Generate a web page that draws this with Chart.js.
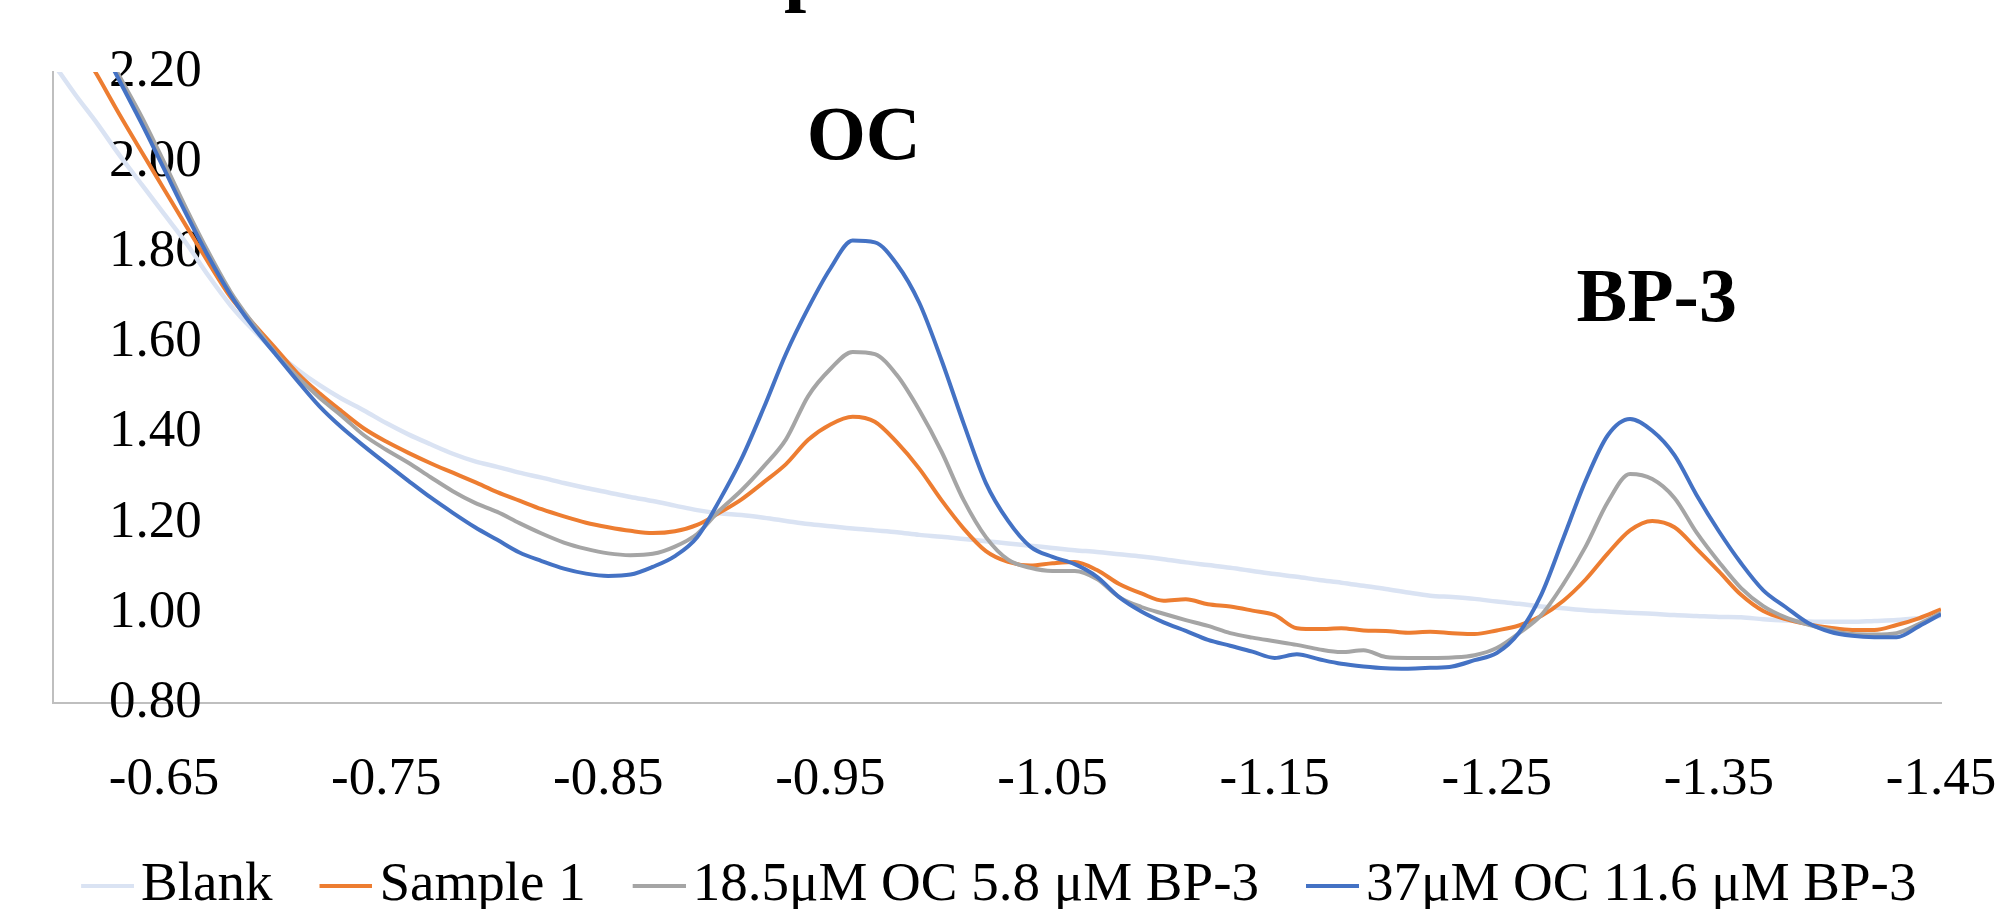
<!DOCTYPE html>
<html>
<head>
<meta charset="utf-8">
<script src="https://cdn.jsdelivr.net/npm/chart.js@4/dist/chart.umd.min.js"></script>
<style>
  html, body { margin: 0; padding: 0; background: #ffffff; }
  #wrap { width: 2000px; height: 909px; position: relative; }
  canvas { display: block; }
</style>
</head>
<body>
<div id="wrap"><canvas id="c" width="2000" height="909"></canvas></div>
<script>
// ---- DATA ----
const potentials = [
  -0.60, -0.61, -0.62, -0.63, -0.64, -0.65, -0.66, -0.67, -0.68, -0.69,
  -0.70, -0.71, -0.72, -0.73, -0.74, -0.75, -0.76, -0.77, -0.78, -0.79,
  -0.80, -0.81, -0.82, -0.83, -0.84, -0.85, -0.86, -0.87, -0.88, -0.89,
  -0.90, -0.91, -0.92, -0.93, -0.94, -0.95, -0.96, -0.97, -0.98, -0.99,
  -1.00, -1.01, -1.02, -1.03, -1.04, -1.05, -1.06, -1.07, -1.08, -1.09,
  -1.10, -1.11, -1.12, -1.13, -1.14, -1.15, -1.16, -1.17, -1.18, -1.19,
  -1.20, -1.21, -1.22, -1.23, -1.24, -1.25, -1.26, -1.27, -1.28, -1.29,
  -1.30, -1.31, -1.32, -1.33, -1.34, -1.35, -1.36, -1.37, -1.38, -1.39,
  -1.40, -1.41, -1.42, -1.43, -1.44, -1.45
];

const blank = [
  2.220, 2.150, 2.085, 2.015, 1.950, 1.885, 1.820, 1.748, 1.682, 1.628,
  1.580, 1.540, 1.505, 1.475, 1.449, 1.421, 1.396, 1.374, 1.353, 1.336,
  1.324, 1.311, 1.300, 1.288, 1.277, 1.267, 1.257, 1.248, 1.238, 1.228,
  1.221, 1.217, 1.211, 1.204, 1.197, 1.192, 1.187, 1.183, 1.179, 1.173,
  1.169, 1.164, 1.159, 1.154, 1.149, 1.144, 1.139, 1.135, 1.130, 1.125,
  1.119, 1.112, 1.106, 1.100, 1.093, 1.086, 1.080, 1.073, 1.067, 1.060,
  1.053, 1.045, 1.038, 1.035, 1.031, 1.025, 1.020, 1.014, 1.010, 1.006,
  1.003, 1.000, 0.998, 0.995, 0.993, 0.991, 0.990, 0.986, 0.983, 0.981,
  0.980, 0.980, 0.982, 0.984, 0.988, 0.993
];

const sample1 = [
  2.360, 2.276, 2.192, 2.105, 2.022, 1.940, 1.858, 1.777, 1.700, 1.643,
  1.588, 1.532, 1.487, 1.447, 1.409, 1.380, 1.355, 1.332, 1.311, 1.290,
  1.268, 1.249, 1.230, 1.214, 1.200, 1.190, 1.182, 1.177, 1.181, 1.195,
  1.222, 1.252, 1.290, 1.330, 1.384, 1.418, 1.435, 1.424, 1.378, 1.320,
  1.250, 1.187, 1.137, 1.113, 1.105, 1.110, 1.113, 1.095, 1.064, 1.043,
  1.027, 1.030, 1.019, 1.014, 1.005, 0.995, 0.966, 0.964, 0.966, 0.961,
  0.960, 0.956, 0.958, 0.955, 0.953, 0.961, 0.972, 0.993, 1.027, 1.074,
  1.132, 1.183, 1.204, 1.190, 1.142, 1.092, 1.040, 1.004, 0.986, 0.975,
  0.967, 0.962, 0.962, 0.973, 0.988, 1.008
];

const mix18 = [
  2.450, 2.365, 2.280, 2.190, 2.100, 2.000, 1.897, 1.800, 1.712, 1.642,
  1.578, 1.524, 1.477, 1.437, 1.394, 1.362, 1.333, 1.301, 1.270, 1.244,
  1.224, 1.199, 1.176, 1.156, 1.142, 1.132, 1.128, 1.131, 1.147, 1.175,
  1.227, 1.272, 1.325, 1.385, 1.481, 1.541, 1.579, 1.574, 1.527, 1.450,
  1.358, 1.250, 1.168, 1.118, 1.100, 1.093, 1.093, 1.075, 1.035, 1.013,
  0.998, 0.984, 0.971, 0.955, 0.945, 0.937, 0.929, 0.919, 0.913, 0.917,
  0.902, 0.900, 0.900, 0.901, 0.906, 0.922, 0.955, 0.995, 1.064, 1.147,
  1.246, 1.308, 1.297, 1.255, 1.178, 1.113, 1.055, 1.015, 0.990, 0.974,
  0.962, 0.953, 0.952, 0.955, 0.975, 1.000
];

const mix37 = [
  2.450, 2.365, 2.275, 2.180, 2.085, 1.985, 1.885, 1.790, 1.705, 1.635,
  1.575, 1.515, 1.458, 1.411, 1.370, 1.331, 1.293, 1.256, 1.222, 1.190,
  1.162, 1.134, 1.115, 1.098, 1.087, 1.082, 1.085, 1.102, 1.126, 1.168,
  1.249, 1.342, 1.455, 1.575, 1.676, 1.764, 1.826, 1.822, 1.773, 1.688,
  1.561, 1.420, 1.288, 1.204, 1.147, 1.124, 1.108, 1.080, 1.035, 1.003,
  0.979, 0.960, 0.940, 0.927, 0.914, 0.900, 0.908, 0.897, 0.887, 0.881,
  0.877, 0.876, 0.878, 0.881, 0.895, 0.911, 0.956, 1.040, 1.166, 1.293,
  1.394, 1.430, 1.404, 1.350, 1.261, 1.181, 1.110, 1.050, 1.013, 0.978,
  0.958, 0.949, 0.946, 0.946, 0.970, 0.997
];

const seriesNames = ['Blank', 'Sample 1', '18.5\u03bcM OC 5.8 \u03bcM BP-3', '37\u03bcM OC 11.6 \u03bcM BP-3'];
const seriesColors = ['#DAE3F3', '#ED7D31', '#A5A5A5', '#4472C4'];
const xTickValues = [-0.65, -0.75, -0.85, -0.95, -1.05, -1.15, -1.25, -1.35, -1.45];
const yTickValues = [0.80, 1.00, 1.20, 1.40, 1.60, 1.80, 2.00, 2.20];
const peakLabels = [
  { text: 'OC',   x: -0.965, y: 2.007 },
  { text: 'BP-3', x: -1.322, y: 1.648 }
];
const titleFragment = 'p';

// ---- RENDERING ----
const FONT = '"Liberation Serif", "Times New Roman", serif';
const seriesValues = [blank, sample1, mix18, mix37];

// legend line sample: 53 px line, offset so it ends 7 px before the label text
function makeLegendIcon(color) {
  const cv = document.createElement('canvas');
  cv.width = 71; cv.height = 6;
  const c = cv.getContext('2d');
  c.fillStyle = color;
  c.fillRect(18, 1, 53, 4);
  return cv;
}
const legendIcons = seriesColors.map(makeLegendIcon);

const datasets = seriesNames.map((name, i) => ({
  label: name,
  data: seriesValues[i],
  borderColor: seriesColors[i],
  backgroundColor: seriesColors[i],
  borderWidth: i === 0 ? 4.5 : 4,
  pointRadius: 0,
  pointHoverRadius: 0,
  cubicInterpolationMode: 'monotone',
  fill: false,
  clip: 0,
  order: seriesNames.length - i
}));

const annotationPlugin = {
  id: 'peakAnnotations',
  afterDraw(chart) {
    const { ctx, scales } = chart;
    ctx.save();
    ctx.fillStyle = '#000000';
    ctx.textBaseline = 'alphabetic';
    ctx.textAlign = 'center';
    ctx.font = 'bold 76px ' + FONT;
    peakLabels.forEach(p => {
      ctx.fillText(p.text, scales.x.getPixelForValue(p.x), scales.y.getPixelForValue(p.y));
    });
    ctx.textAlign = 'left';
    ctx.font = 'bold 80px ' + FONT;
    ctx.fillText(titleFragment, 784, -4);
    ctx.restore();
  }
};

new Chart(document.getElementById('c'), {
  type: 'line',
  data: { labels: potentials, datasets },
  options: {
    responsive: false,
    animation: false,
    events: [],
    layout: { padding: { left: 0, right: 0, top: 72, bottom: 0 } },
    scales: {
      x: {
        type: 'linear',
        reverse: true,
        min: -1.45,
        max: -0.60,
        afterBuildTicks: s => { s.ticks = xTickValues.map(v => ({ value: v })); },
        afterFit: s => { s.height = 106; s.paddingLeft = 0; s.paddingRight = 59; },
        grid: { display: false, drawTicks: false },
        border: { display: true, color: '#BFBFBF', width: 2 },
        ticks: {
          autoSkip: false,
          maxRotation: 0,
          minRotation: 0,
          padding: 45,
          color: '#000000',
          font: { family: FONT, size: 53 },
          callback: v => Number(v).toFixed(2)
        }
      },
      y: {
        type: 'linear',
        min: 0.8,
        max: 2.2,
        afterBuildTicks: s => { s.ticks = yTickValues.map(v => ({ value: v })); },
        afterFit: s => { s.width = 53; s.paddingTop = 0; s.paddingBottom = 0; },
        grid: { display: false, drawTicks: false },
        border: { display: true, color: '#BFBFBF', width: 2 },
        ticks: {
          mirror: true,
          crossAlign: 'near',
          padding: 56,
          color: '#000000',
          font: { family: FONT, size: 53 },
          callback: v => Number(v).toFixed(2)
        }
      }
    },
    plugins: {
      tooltip: { enabled: false },
      title: { display: false },
      legend: {
        display: true,
        position: 'bottom',
        maxHeight: 100,
        labels: {
          usePointStyle: true,
          boxWidth: 30,
          boxHeight: 30,
          padding: 49.5,
          color: '#000000',
          font: { family: FONT, size: 55 },
          generateLabels: chart => chart.data.datasets.map((ds, i) => ({
            text: ds.label,
            fillStyle: ds.borderColor,
            strokeStyle: ds.borderColor,
            lineWidth: 0,
            pointStyle: legendIcons[i],
            hidden: false,
            datasetIndex: i,
            fontColor: '#000000'
          }))
        }
      }
    }
  },
  plugins: [annotationPlugin]
});
</script>
</body>
</html>
